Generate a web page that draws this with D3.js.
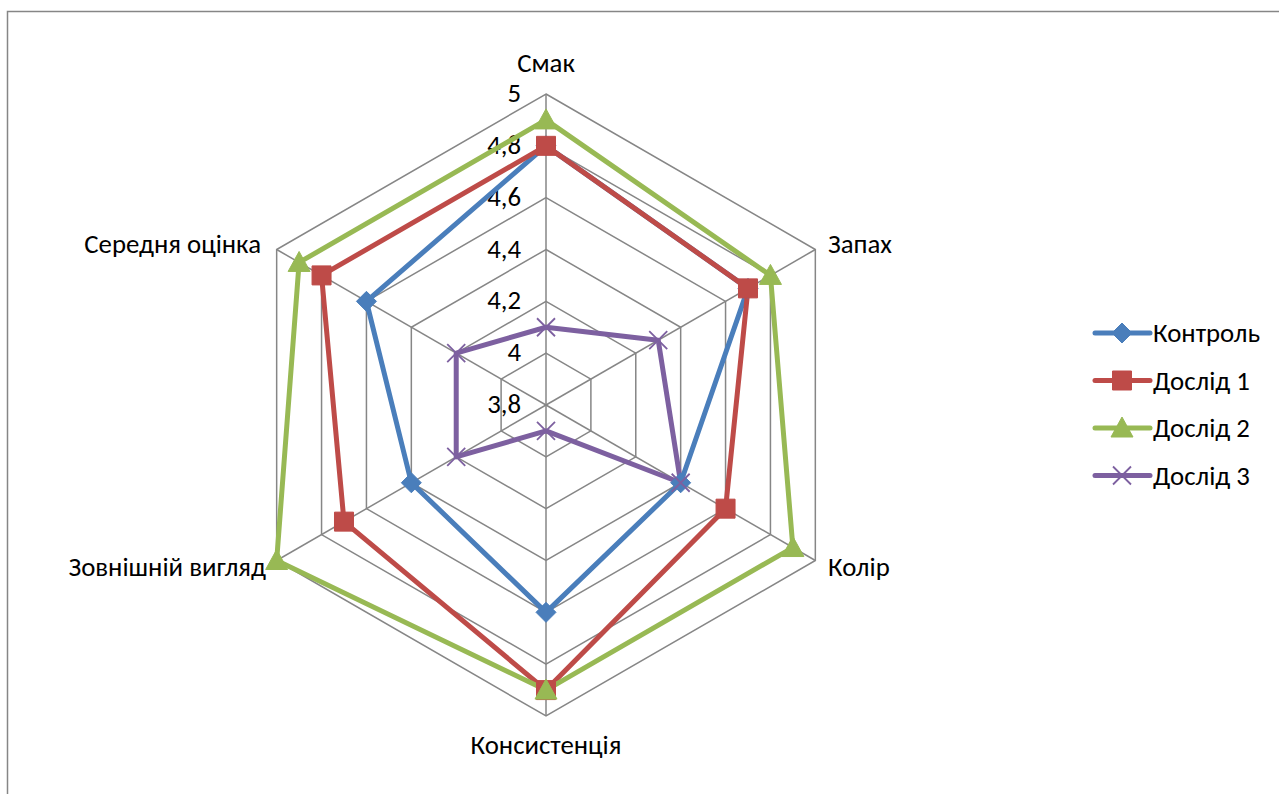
<!DOCTYPE html>
<html>
<head>
  <meta charset="utf-8"/>
  <style>
    body { margin: 0; background: #fff; }
    svg { display: block; font-family: Carlito, "Open Sans", sans-serif; }
  </style>
</head>
<body>
  <div id="radar"></div>
  <script src="https://d3js.org/d3.v7.min.js"></script>
  <script>
    let axes = ['Смак', 'Запах', 'Колір', 'Консистенція', 'Зовнішній вигляд', 'Середня оцінка'];
    let seriesNames = ['Контроль', 'Дослід 1', 'Дослід 2', 'Дослід 3'];
    let kontrol = [4.8, 4.7, 4.4, 4.6, 4.4, 4.6];
    let doslid1 = [4.8, 4.7, 4.6, 4.9, 4.7, 4.8];
    let doslid2 = [4.9, 4.8, 4.9, 4.9, 5.0, 4.9];
    let doslid3 = [4.1, 4.3, 4.4, 3.9, 4.2, 4.2];
    let ticks = [3.8, 4, 4.2, 4.4, 4.6, 4.8, 5];

    let width = 1279, height = 794,
        cx = 546, cy = 405, radius = 311,
        fontSize = 26.8;

    let colors = ['#4a7ebb', '#be4b48', '#98b954', '#7d60a0'];
    let data = [kontrol, doslid1, doslid2, doslid3];

    let svg = d3.select('#radar')
        .append('svg')
        .attr('width', width)
        .attr('height', height);

    // chart area frame
    svg.append('rect')
        .attr('x', 7.5).attr('y', 11.5)
        .attr('width', 1400).attr('height', 900)
        .attr('fill', 'none')
        .attr('stroke', '#868686')
        .attr('stroke-width', 1.5);

    let r = d3.scaleLinear().domain([3.8, 5]).range([0, radius]);
    let angle = i => i * 2 * Math.PI / axes.length;
    let px = (v, i) => cx + r(v) * Math.sin(angle(i));
    let py = (v, i) => cy - r(v) * Math.cos(angle(i));

    let g = svg.append('g');

    // grid hexagons
    g.selectAll('.grid')
        .data(ticks.slice(1))
        .enter()
        .append('polygon')
        .attr('points', t => axes.map((a, i) => px(t, i) + ',' + py(t, i)).join(' '))
        .attr('fill', 'none')
        .attr('stroke', '#868686')
        .attr('stroke-width', 1.5);

    // spokes
    g.selectAll('.spoke')
        .data(axes)
        .enter()
        .append('line')
        .attr('x1', cx).attr('y1', cy)
        .attr('x2', (d, i) => px(5, i))
        .attr('y2', (d, i) => py(5, i))
        .attr('stroke', '#868686')
        .attr('stroke-width', 1.5);

    // tick labels
    g.selectAll('.tick')
        .data(ticks)
        .enter()
        .append('text')
        .attr('x', cx - 25)
        .attr('y', t => cy - r(t) + 8)
        .attr('text-anchor', 'end')
        .attr('font-size', fontSize)
        .text(t => String(t).replace('.', ','));

    // axis labels
    let labelPos = [
      {x: cx, y: 72, anchor: 'middle'},
      {x: 828, y: 253, anchor: 'start'},
      {x: 828, y: 576, anchor: 'start'},
      {x: cx, y: 754, anchor: 'middle'},
      {x: 266, y: 576, anchor: 'end'},
      {x: 261, y: 253, anchor: 'end'}
    ];
    g.selectAll('.axis-label')
        .data(axes)
        .enter()
        .append('text')
        .attr('x', (d, i) => labelPos[i].x)
        .attr('y', (d, i) => labelPos[i].y)
        .attr('text-anchor', (d, i) => labelPos[i].anchor)
        .attr('font-size', fontSize)
        .text(d => d);

    // series
    let line = d3.line()
        .x((d, i) => px(d, i))
        .y((d, i) => py(d, i))
        .curve(d3.curveLinearClosed);

    data.forEach((vals, s) => {
      g.append('path')
          .attr('d', line(vals))
          .attr('fill', 'none')
          .attr('stroke', colors[s])
          .attr('stroke-width', 5)
          .attr('stroke-linejoin', 'round');
    });

    // marker shapes, Excel-like
    let markerPath = [
      'M0,-10L10,0L0,10L-10,0Z',
      'M-9.5,-9.5H9.5V9.5H-9.5Z',
      'M0,-11L11,9H-11Z',
      'M-9,-9L9,9M9,-9L-9,9'
    ];
    let marker = (sel, s) => {
      sel.attr('d', markerPath[s])
          .attr('fill', s === 3 ? 'none' : colors[s])
          .attr('stroke', colors[s])
          .attr('stroke-width', s === 3 ? 1.8 : 1);
    };

    data.forEach((vals, s) => {
      g.selectAll('.m' + s)
          .data(vals)
          .enter()
          .append('path')
          .attr('transform', (d, i) => 'translate(' + px(d, i) + ',' + py(d, i) + ')')
          .call(marker, s);
    });

    // legend
    let legend = svg.append('g').attr('transform', 'translate(1095,333)');
    let rows = legend.selectAll('g')
        .data(seriesNames)
        .enter()
        .append('g')
        .attr('transform', (d, i) => 'translate(0,' + i * 47.5 + ')');
    rows.append('line')
        .attr('x1', 0).attr('x2', 55)
        .attr('stroke', (d, i) => colors[i])
        .attr('stroke-width', 5)
        .attr('stroke-linecap', 'round');
    rows.append('path')
        .attr('transform', 'translate(27,0)')
        .each(function (d, i) { d3.select(this).call(marker, i); });
    rows.append('text')
        .attr('x', 58)
        .attr('y', 9)
        .attr('font-size', fontSize)
        .text(d => d);
  </script>
</body>
</html>
